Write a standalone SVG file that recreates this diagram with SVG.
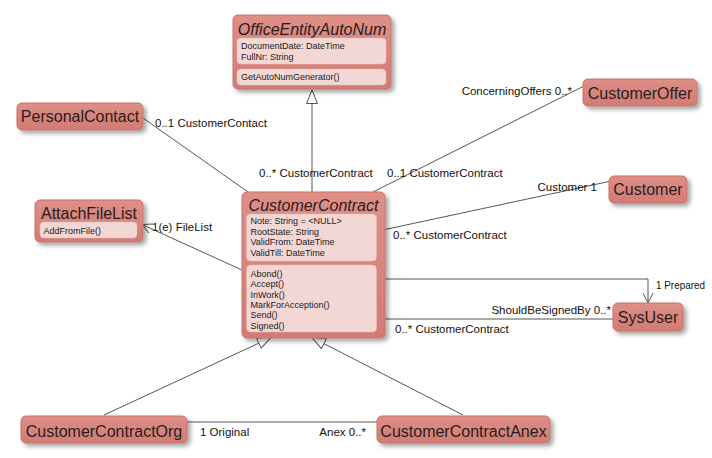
<svg xmlns="http://www.w3.org/2000/svg" width="712" height="458" viewBox="0 0 712 458">
<defs>
<linearGradient id="nodeFill" x1="0" y1="0" x2="0" y2="1">
<stop offset="0" stop-color="#de8f88"/>
<stop offset="1" stop-color="#d17b74"/>
</linearGradient>
<filter id="shadow" x="-10%" y="-10%" width="130%" height="140%">
<feDropShadow dx="3" dy="3" stdDeviation="2" flood-color="#000" flood-opacity="0.35"/>
</filter>
<marker id="gen" viewBox="0 0 14 12" refX="14" refY="6" markerWidth="14" markerHeight="12" markerUnits="userSpaceOnUse" orient="auto">
<path d="M0.5,0.5 L14,6 L0.5,11.5 Z" fill="#fff" stroke="#555" stroke-width="1"/>
</marker>
<marker id="open" viewBox="0 0 11 11" refX="10.5" refY="5.5" markerWidth="11" markerHeight="11" markerUnits="userSpaceOnUse" orient="auto">
<path d="M0.5,0.5 L10.5,5.5 L0.5,10.5" fill="none" stroke="#555" stroke-width="1"/>
</marker>
</defs>
<style>
.node{fill:url(#nodeFill);stroke:#c97068;stroke-width:1;filter:url(#shadow)}
.comp{fill:#f3d7d5;stroke:#e8bcb8;stroke-width:0.5}
.title{font-family:"Liberation Sans",Arial,sans-serif;font-size:16px;fill:#2a1c1c}
.abs{font-style:italic}
.mem{font-family:"Liberation Sans",Arial,sans-serif;font-size:9px;fill:#1a1a1a}
.lbl{font-family:"Liberation Sans",Arial,sans-serif;font-size:11.5px;fill:#111}
.end{text-anchor:end}
.conn{fill:none;stroke:#555;stroke-width:1}
</style>
<rect width="712" height="458" fill="#fff"/>
<g id="connectors">
<path class="conn" d="M312,192 V90" marker-end="url(#gen)"/>
<path class="conn" d="M104,415 L271,337.5" marker-end="url(#gen)"/>
<path class="conn" d="M463,415 L312,337.5" marker-end="url(#gen)"/>
<path class="conn" d="M143,118 L248,192"/>
<path class="conn" d="M242,270 L142,224.5" marker-end="url(#open)"/>
<path class="conn" d="M373,192 L583,86.5"/>
<path class="conn" d="M385,229.5 L609,181.5"/>
<path class="conn" d="M385,279 H648 V303" marker-end="url(#open)"/>
<path class="conn" d="M385,319 H613"/>
<path class="conn" d="M187,422 H377"/>
<text class="lbl" x="155" y="127">0..1 CustomerContact</text>
<text class="lbl" x="259" y="177">0..* CustomerContract</text>
<text class="lbl" x="387" y="177">0..1 CustomerContract</text>
<text class="lbl end" x="572" y="94.5">ConcerningOffers 0..*</text>
<text class="lbl end" x="597" y="191">Customer 1</text>
<text class="lbl" x="393" y="238.5">0..* CustomerContract</text>
<text class="lbl" x="152" y="231">1(e) FileList</text>
<text class="lbl" x="656" y="288.5" textLength="49" lengthAdjust="spacingAndGlyphs">1 Prepared</text>
<text class="lbl end" x="611" y="313.5">ShouldBeSignedBy 0..*</text>
<text class="lbl" x="395" y="332.5">0..* CustomerContract</text>
<text class="lbl" x="200" y="436">1 Original</text>
<text class="lbl end" x="366" y="436">Anex 0..*</text>
</g>
<g id="OfficeEntityAutoNum">
<rect class="node" x="233" y="15" width="158" height="74" rx="5"/>
<text class="title abs" x="312" y="34.5" text-anchor="middle">OfficeEntityAutoNum</text>
<rect class="comp" x="237" y="38" width="149" height="26" rx="4"/>
<text class="mem" x="241" y="48.5">DocumentDate: DateTime</text>
<text class="mem" x="241" y="59.5">FullNr: String</text>
<rect class="comp" x="237" y="69" width="149" height="16" rx="4"/>
<text class="mem" x="241" y="79.5">GetAutoNumGenerator()</text>
</g>
<g id="PersonalContact">
<rect class="node" x="17" y="103" width="126" height="27" rx="5"/>
<text class="title" x="80" y="122" text-anchor="middle">PersonalContact</text>
</g>
<g id="AttachFileList">
<rect class="node" x="35" y="200" width="108" height="42" rx="5"/>
<text class="title" x="89" y="218.5" text-anchor="middle">AttachFileList</text>
<rect class="comp" x="40" y="222" width="97" height="16" rx="4"/>
<text class="mem" x="43.5" y="234">AddFromFile()</text>
</g>
<g id="CustomerContract">
<rect class="node" x="242" y="192" width="143" height="146" rx="5"/>
<text class="title abs" x="313.5" y="210.5" text-anchor="middle">CustomerContract</text>
<rect class="comp" x="246.5" y="214" width="130" height="47" rx="4"/>
<text class="mem" x="250.5" y="223.5">Note: String = &lt;NULL&gt;</text>
<text class="mem" x="250.5" y="234.5">RootState: String</text>
<text class="mem" x="250.5" y="245.3">ValidFrom: DateTime</text>
<text class="mem" x="250.5" y="256">ValidTill: DateTime</text>
<rect class="comp" x="246.5" y="265" width="130" height="67" rx="4"/>
<text class="mem" x="250.5" y="277">Abond()</text>
<text class="mem" x="250.5" y="287.3">Accept()</text>
<text class="mem" x="250.5" y="297.6">InWork()</text>
<text class="mem" x="250.5" y="307.9">MarkForAcception()</text>
<text class="mem" x="250.5" y="318.2">Send()</text>
<text class="mem" x="250.5" y="328.5">Signed()</text>
</g>
<g id="CustomerOffer">
<rect class="node" x="583" y="79" width="114" height="27" rx="5"/>
<text class="title" x="640" y="98.5" text-anchor="middle">CustomerOffer</text>
</g>
<g id="Customer">
<rect class="node" x="609" y="176" width="78" height="27" rx="5"/>
<text class="title" x="648" y="194.5" text-anchor="middle">Customer</text>
</g>
<g id="SysUser">
<rect class="node" x="613" y="303" width="70" height="28" rx="5"/>
<text class="title" x="648" y="323" text-anchor="middle">SysUser</text>
</g>
<g id="CustomerContractOrg">
<rect class="node" x="21" y="416" width="166" height="27" rx="5"/>
<text class="title" x="104" y="436.5" text-anchor="middle">CustomerContractOrg</text>
</g>
<g id="CustomerContractAnex">
<rect class="node" x="377" y="416" width="173" height="27" rx="5"/>
<text class="title" x="463.5" y="436.5" text-anchor="middle">CustomerContractAnex</text>
</g>
</svg>
